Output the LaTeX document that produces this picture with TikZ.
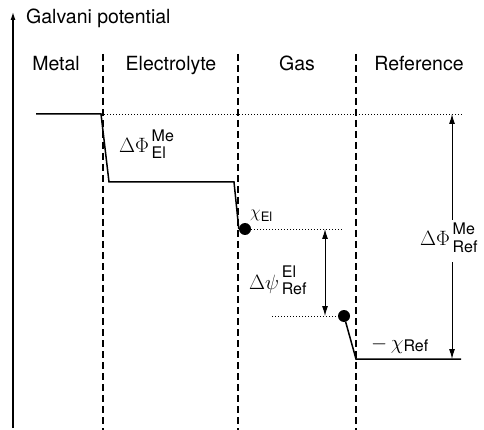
\documentclass[tikz,border=0pt]{standalone}
\usepackage{fontspec}
\setmainfont{TeX Gyre Heros}
\usetikzlibrary{arrows.meta,positioning}

\begin{document}
\begin{tikzpicture}[>={Latex[length=10pt,width=6pt]},x=1pt,y=-1pt,
  phase/.style={font=\fontsize{19.5}{24}\selectfont,inner sep=0pt,anchor=base},
  bnd/.style={dash pattern=on 7pt off 4pt,line width=1.1pt},
  lvl/.style={dash pattern=on 1pt off 2pt,line width=0.8pt},
  pot/.style={line width=1.5pt},
  dot/.style={circle,fill,inner sep=0pt,minimum size=12pt},
  dlbl/.style={font=\fontsize{16}{17}\selectfont,inner sep=0pt,anchor=base west},
  dim/.style={line width=1pt}]
\useasboundingbox (0,0) rectangle (484,430);
% potential axis
\coordinate (ax0) at (13,428);
\coordinate (ax1) at (13,12);
\draw[-{Latex[length=8pt,width=5pt]},line width=1.2pt] (ax0) -- (ax1);
\node[phase,anchor=base west] (gp) at (26,24) {Galvani potential};
% phase boundaries
\foreach \x/\n in {103/bA,238/bB,356/bC} {
  \coordinate (\n t) at (\x,54);
  \coordinate (\n b) at (\x,430);
  \draw[bnd] (\n t) -- (\n b);
}
\node[phase] (metal) at (56,71) {Metal};
\node[phase] (elyte) at (171,71) {Electrolyte};
\node[phase] (gas) at (297,71) {Gas};
\node[phase] (refph) at (419,71) {Reference};
% potential profile
\coordinate (m0) at (36,114);
\coordinate (m1) at (101,114);
\coordinate (e0) at (109,182);
\coordinate (e1) at (234,182);
\node[dot] (chiEl) at (245,229) {};
\node[dot] (chiRef) at (344,316) {};
\coordinate (r0) at (356,359);
\coordinate (r1) at (461,359);
\draw[pot] (m0) -- (m1) -- (e0) -- (e1) -- (chiEl.west);
\draw[pot] (chiRef) -- (r0) -- (r1);
% reference levels
\coordinate (topEnd) at (463,114);
\coordinate (elEnd) at (343,229);
\coordinate (refStart) at (272,316);
\draw[lvl] (m1) -- (topEnd);
\draw[lvl] (chiEl) -- (elEnd);
\draw[lvl] (refStart) -- (chiRef);
% potential differences
\node[dlbl] (dPhiEl) at (119,153) {{\fontsize{20}{20}\selectfont$\Delta\Phi$}\,\raisebox{-6pt}{\begin{tabular}[b]{@{}l@{}}Me\\El\end{tabular}}};
\node[dlbl] (dPsi) at (249,289) {{\fontsize{20}{20}\selectfont$\Delta\psi$}\,\raisebox{-5pt}{\begin{tabular}[b]{@{}l@{}}El\\Ref\end{tabular}}};
\node[dlbl] (dPhiRef) at (420,246) {{\fontsize{20}{20}\selectfont$\Delta\Phi$}\,\raisebox{-6pt}{\begin{tabular}[b]{@{}l@{}}Me\\Ref\end{tabular}}};
\node[dlbl] (lChiEl) at (250,218) {{\fontsize{19}{19}\selectfont$\chi$}\raisebox{-4pt}{\fontsize{13}{13}\selectfont El}};
\node[dlbl] (lChiRef) at (371,349) {{\fontsize{20}{20}\selectfont$-\,\chi$}\raisebox{-2pt}{\fontsize{16}{16}\selectfont Ref}};
\coordinate (psiT) at (325,229);
\coordinate (psiB) at (325,316);
\draw[<->,dim] (psiT) -- (psiB);
\coordinate (phiT) at (452,114);
\coordinate (phiB) at (452,359);
\draw[->,dim] (dPhiRef.north -| phiT) ++(0,-3) -- (phiT);
\draw[->,dim] (dPhiRef.south -| phiT) ++(0,5) -- (phiB);
\end{tikzpicture}
\end{document}
